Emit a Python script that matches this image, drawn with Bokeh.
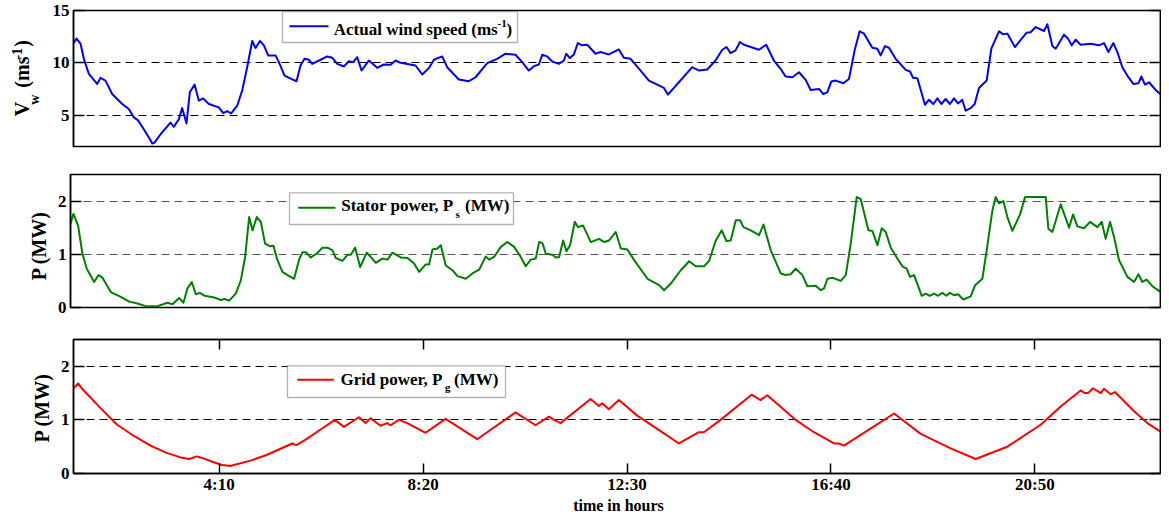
import math
from bokeh.plotting import figure
from bokeh.models import Range1d, FixedTicker, LinearAxis, Label, BoxAnnotation, ColumnDataSource
from bokeh.layouts import column, row
from bokeh.core.properties import value
from bokeh.embed import file_html
from bokeh.resources import INLINE

# ---------------- data (time in minutes from midnight) ----------------
wind_t = [71, 75.1, 80.0, 84.1, 90.2, 100.4, 104.5, 110.6, 118.8, 131.1, 139.2, 145.4, 150.3, 157.6, 163.8,
          167.9, 170.7, 178.1, 190.3, 194.4, 200.6, 204.6, 206.7, 209.9, 214.0, 219.8, 225.1, 230.4, 237.3, 249.6,
          254.9, 259.8, 264.7, 272.1, 278.2, 284.3, 290.5, 294.6, 299.9, 304.8, 310.1, 319.1, 323.2, 330.1, 338.3,
          344.8, 349.7, 354.6, 360.0, 364.0, 374.3, 382.4, 388.6, 394.7, 402.9, 409.0, 414.3, 419.2, 424.5, 433.5,
          443.7, 451.9, 460.1, 466.2, 472.3,
          490.7, 498.9, 507.0, 513.2, 523.4, 529.5, 543.8, 556.1, 564.3, 578.6, 590.8, 601.0, 613.3, 621.5, 629.6,
          635.8, 641.9, 646.0, 652.1, 658.3, 666.4, 672.6, 675.4, 679.9, 684.8, 689.7, 695.0, 701.2, 711.4, 717.5,
          727.7, 740.0, 746.1, 754.3, 766.6, 776.8, 795.2, 800.1, 813.6, 829.9, 838.1, 848.3, 858.5, 866.7, 872.0,
          876.9, 883.0, 888.4, 893.3, 911.7, 920.6, 930.0,
          938.3, 944.4, 952.6, 960.8, 969.0, 975.1, 985.3, 990.6, 995.5, 1000.4, 1005.7, 1015.1, 1022.1, 1029.0, 1035.2,
          1040.5, 1050.7, 1056.8, 1060.9, 1066.2, 1071.1, 1079.3, 1091.6, 1096.9, 1100.6, 1105.9, 1115.3, 1120.2, 1125.5, 1130.4,
          1135.3, 1140.6, 1145.9, 1150.8, 1155.7, 1161.0, 1165.1, 1171.3, 1176.2, 1181.5, 1190.9, 1196.6, 1206.0, 1211.3, 1216.2,
          1225.6, 1239.9, 1244.8, 1251.0, 1261.2, 1265.3, 1271.4, 1275.5, 1285.7, 1290.6, 1295.1, 1300.0, 1306.1, 1318.4, 1328.6,
          1334.7, 1340.1, 1346.2, 1351.1, 1357.2, 1363.3, 1370.7, 1376.8, 1380.5, 1385.0, 1389.9, 1398.1, 1407.5, 1413]
wind_v = [11.83, 12.31, 11.83, 10.38, 8.94, 7.98, 8.56, 8.30, 7.02, 6.06, 5.58, 4.78, 4.52, 3.65, 2.85,
          2.28, 2.37, 3.17, 4.29, 3.88, 4.62, 5.67, 5.10, 4.20, 7.18, 7.92, 6.38, 6.60, 6.06, 5.74,
          5.19, 5.38, 5.16, 5.90, 7.34, 9.58, 12.08, 11.41, 12.08, 11.67, 10.71, 10.71, 10.06, 8.78, 8.46,
          8.24, 9.74, 10.38, 10.29, 9.90, 10.29, 10.61, 10.48, 9.90, 9.65, 10.16, 10.06, 10.54, 9.26, 10.22,
          9.52, 9.84, 9.81, 10.22, 10.0,
          9.74, 8.88, 9.49, 10.29, 10.61, 9.58, 8.40, 8.24, 8.62, 9.97, 10.38, 10.87, 10.77, 10.06, 9.26,
          9.68, 9.84, 10.77, 10.61, 10.13, 9.90, 10.22, 10.87, 10.45, 10.80, 11.89, 11.67, 11.73, 10.87, 11.03,
          10.80, 11.28, 10.48, 10.38, 9.26, 8.30, 7.60, 6.96, 8.14, 9.58, 9.26, 9.36, 10.22, 11.25, 11.51,
          10.93, 11.19, 11.99, 11.73, 11.25, 11.73, 10.22,
          9.42, 8.69, 8.62, 9.10, 8.37, 7.40, 7.50, 7.02, 7.18, 8.21, 8.30, 8.04, 8.46, 11.19, 13.01,
          12.79, 11.44, 11.35, 10.71, 11.60, 11.44, 10.38, 9.33, 9.17, 8.56, 8.53, 5.99, 6.47, 6.06, 6.60,
          6.06, 6.54, 6.06, 6.60, 6.12, 6.47, 5.42, 5.67, 6.06, 7.60, 8.30, 11.35, 13.01, 12.72, 12.79,
          11.51, 12.88, 12.92, 13.42, 13.04, 13.69, 11.60, 11.35, 12.69, 12.31, 11.67, 12.21, 11.73, 11.83, 11.67,
          11.89, 11.03, 11.89, 11.03, 9.58, 8.78, 7.98, 8.04, 8.69, 7.92, 8.14, 7.40, 6.76, 6.70]

stator_t = [71.4, 75.0, 80.7, 86.0, 91.3, 100.3, 105.6, 110.5, 120.7, 132.9, 143.1, 153.3, 163.5, 177.7, 190.0,
            196.1, 204.2, 209.5, 214.4, 219.7, 224.6, 229.5, 235.6, 247.0, 255.2, 260.0, 265.3, 273.5, 279.6, 284.9,
            289.8, 293.9, 299.2, 304.1, 309.3, 315.5, 319.5, 324.4, 330.5, 336.7, 344.8, 350.9, 355.0, 359.1, 365.2,
            373.3, 379.4, 385.6, 391.7, 395.7, 403.9, 410.0, 414.1, 419.4, 425.5, 433.6, 438.5, 444.6, 452.8, 458.9,
            465.0, 475.2,
            483.4, 491.5, 497.6, 505.8, 509.8, 513.9, 520.0, 524.1, 530.2, 538.4, 544.5, 554.7, 562.8, 571.0, 579.1,
            583.2, 589.3, 597.5, 605.6, 613.8, 621.9, 628.0, 634.1, 640.2, 644.3, 648.4, 652.5, 660.6, 664.7, 668.8,
            673.7, 677.7, 682.2, 687.9, 692.0, 698.1, 707.5, 717.7, 723.8, 729.9, 738.0, 744.2, 752.3, 760.5, 776.8,
            791.0, 797.1, 805.3, 817.5, 827.7, 835.8, 846.0, 852.1, 860.3, 867.6, 873.3, 878.6, 884.7, 890.0, 894.1,
            903.1, 913.3, 918.6, 927.5,
            939.7, 945.8, 951.9, 958.0, 966.2, 972.3, 982.5, 988.6, 992.7, 996.8, 1002.9, 1013.1, 1019.2, 1025.3, 1032.6,
            1037.5, 1046.9, 1051.8, 1057.9, 1063.2, 1068.1, 1074.2, 1082.3, 1088.4, 1093.7, 1097.8, 1102.7, 1112.1, 1117.0, 1121.9,
            1127.2, 1132.0, 1137.3, 1142.2, 1146.7, 1151.6, 1156.5, 1163.0, 1172.0, 1177.3, 1186.2, 1191.5, 1198.5, 1202.5, 1206.6,
            1211.9, 1216.8, 1222.9, 1232.3, 1238.4, 1263.7, 1266.9, 1271.8, 1282.0, 1286.9, 1292.2, 1297.1, 1302.4, 1310.5, 1317.9,
            1326.8, 1332.1, 1337.0, 1342.3, 1347.2, 1353.3, 1363.5, 1371.7, 1377.0, 1381.8, 1387.1, 1394.1, 1404.2, 1412.4]
stator_p = [1.575, 1.76, 1.54, 1.01, 0.73, 0.48, 0.61, 0.56, 0.29, 0.20, 0.11, 0.075, 0.025, 0.025, 0.09,
            0.06, 0.18, 0.09, 0.36, 0.48, 0.25, 0.275, 0.22, 0.19, 0.14, 0.16, 0.13, 0.26, 0.51, 0.95,
            1.70, 1.45, 1.70, 1.61, 1.20, 1.15, 1.16, 0.89, 0.67, 0.61, 0.54, 0.90, 1.04, 1.04, 0.94,
            1.025, 1.125, 1.125, 1.075, 0.93, 0.875, 0.99, 0.99, 1.125, 0.76, 1.03, 0.95, 0.84, 0.92, 0.90,
            1.03, 0.94,
            0.93, 0.825, 0.67, 0.81, 0.81, 1.09, 1.11, 1.17, 0.79, 0.70, 0.59, 0.54, 0.64, 0.71, 0.96,
            0.90, 0.95, 1.14, 1.23, 1.14, 0.95, 0.775, 0.90, 0.92, 1.23, 1.21, 1.01, 0.99, 0.94, 0.95,
            1.26, 1.06, 1.17, 1.61, 1.51, 1.54, 1.23, 1.29, 1.23, 1.26, 1.42, 1.11, 1.09, 0.89, 0.54,
            0.42, 0.325, 0.45, 0.70, 0.87, 0.775, 0.775, 0.875, 1.26, 1.45, 1.25, 1.26, 1.64, 1.64, 1.51,
            1.45, 1.36, 1.56, 1.075,
            0.64, 0.61, 0.625, 0.73, 0.61, 0.40, 0.41, 0.325, 0.36, 0.54, 0.56, 0.50, 0.61, 1.20, 2.075,
            2.04, 1.45, 1.44, 1.17, 1.49, 1.42, 1.125, 0.92, 0.775, 0.73, 0.575, 0.61, 0.22, 0.26, 0.22,
            0.26, 0.22, 0.275, 0.22, 0.275, 0.23, 0.25, 0.15, 0.21, 0.42, 0.54, 1.075, 1.825, 2.075, 1.96,
            2.0, 1.70, 1.44, 1.75, 2.075, 2.075, 1.48, 1.42, 1.94, 1.73, 1.50, 1.75, 1.525, 1.49, 1.61,
            1.51, 1.61, 1.29, 1.61, 1.325, 0.89, 0.575, 0.48, 0.625, 0.48, 0.525, 0.40, 0.29, 0.29]

grid_t = [71.0, 77.1, 82.0, 104.5, 124.9, 145.4, 165.8, 186.3, 202.6, 212.8, 216.9, 222.2, 227.1, 243.5, 253.7,
          263.9, 268.0, 288.4, 308.9, 329.3, 339.5, 344.8, 357.9, 374.3, 391.8, 402.9, 421.3, 429.4, 435.6, 447.8,
          456.0, 460.1, 470.3,
          480.5, 503.0, 527.5, 566.3, 613.3, 637.8, 654.2, 660.3, 668.5, 705.3, 715.5, 719.6, 727.7, 740.0, 762.5,
          791.1, 813.6, 838.1, 844.2, 864.7, 902.7, 913.7, 921.9, 950.5,
          956.7, 979.2, 1003.7, 1009.8, 1016.0, 1044.6, 1077.3, 1110.0, 1146.7, 1177.4, 1216.2, 1257.1, 1281.6, 1306.1, 1311.0,
          1315.1, 1321.3, 1330.7, 1334.7, 1342.9, 1348.2, 1371.5, 1387.9, 1413]
grid_p = [1.58, 1.68, 1.58, 1.22, 0.91, 0.70, 0.52, 0.38, 0.30, 0.27, 0.29, 0.32, 0.30, 0.21, 0.16,
          0.14, 0.16, 0.24, 0.35, 0.49, 0.56, 0.53, 0.65, 0.82, 1.00, 0.87, 1.05, 0.94, 1.03, 0.89,
          0.94, 0.90, 1.00,
          0.94, 0.76, 1.02, 0.64, 1.14, 0.90, 1.06, 1.00, 0.94, 1.39, 1.26, 1.31, 1.20, 1.37, 1.08,
          0.79, 0.56, 0.77, 0.77, 1.00, 1.47, 1.37, 1.46, 1.08,
          1.00, 0.77, 0.56, 0.56, 0.52, 0.80, 1.12, 0.74, 0.47, 0.27, 0.50, 0.91, 1.25, 1.55, 1.50,
          1.50, 1.59, 1.50, 1.58, 1.48, 1.52, 1.16, 0.94, 0.69]

x_tick_minutes = [250, 500, 750, 1000, 1250]
x_tick_labels = ["4:10", "8:20", "12:30", "16:40", "20:50"]
wind_ticks = [5, 10, 15]
wind_grid = [5, 10]
power_ticks = [0, 1, 2]
power_grid = [1, 2]
X_START, X_END = 71.4, 1404.0

FONT = "Liberation Serif"
UP = math.pi / 2
TOTAL_W = 1161


def hidden_axis(ticks, tick_len):
    return LinearAxis(ticker=FixedTicker(ticks=ticks), major_tick_in=tick_len, major_tick_out=0,
                      minor_tick_line_color=None, major_label_text_color=None,
                      major_label_text_font_size="1px", major_label_standoff=0,
                      axis_line_width=1.5, major_tick_line_width=1.5)


def make_fig(w, h, left, top, bottom, yr, yticks, ygrid, grid_color, show_x):
    p = figure(width=w, height=h,
               min_border_left=left, min_border_right=1, min_border_top=top, min_border_bottom=bottom,
               x_range=Range1d(X_START, X_END), y_range=Range1d(*yr),
               output_backend="svg", toolbar_location=None,
               x_axis_location="below" if show_x else None)
    p.outline_line_color = "black"
    p.outline_line_width = 1.5
    p.xgrid.visible = False
    p.ygrid.ticker = FixedTicker(ticks=ygrid)
    p.ygrid.grid_line_color = grid_color
    p.ygrid.grid_line_dash = "8 5"
    p.ygrid.grid_line_width = 1
    ya = p.yaxis[0]
    ya.ticker = FixedTicker(ticks=yticks)
    ya.major_tick_in = 11
    ya.major_tick_out = 0
    ya.minor_tick_line_color = None
    ya.axis_line_width = 1.5
    ya.major_tick_line_width = 1.5
    ya.major_label_text_font = FONT
    ya.major_label_text_font_style = "bold"
    ya.major_label_text_font_size = "17px"
    ya.major_label_text_color = "black"
    ya.major_label_standoff = 4
    p.add_layout(hidden_axis(yticks, 11), "right")
    return p


def text_fig(w, h):
    q = figure(width=w, height=h, x_range=Range1d(0, w), y_range=Range1d(0, h),
               min_border=0, x_axis_location=None, y_axis_location=None,
               output_backend="svg", toolbar_location=None)
    q.outline_line_color = None
    q.xgrid.visible = False
    q.ygrid.visible = False
    return q


def vtext(q, xs, ys, texts, size):
    q.text(x=xs, y=ys, text=texts, angle=UP, text_font=value(FONT), text_font_style="bold",
           text_font_size=f"{size}px", text_color="black", text_baseline="middle", text_align="center")


def txt(p, s, x, y, size):
    p.add_layout(Label(x=x, y=y, x_units="screen", y_units="screen", text=s,
                       text_font=FONT, text_font_style="bold", text_font_size=f"{size}px",
                       text_color="black", text_baseline="middle", text_align="left"))


def legend_box(p, l, r, b, t, color, sl, sr, sy):
    p.add_layout(BoxAnnotation(left=l, right=r, bottom=b, top=t,
                               left_units="screen", right_units="screen",
                               bottom_units="screen", top_units="screen",
                               fill_color="white", fill_alpha=1.0,
                               line_color="black", line_width=1.3))
    p.add_layout(BoxAnnotation(left=sl, right=sr, bottom=sy - 1, top=sy + 1,
                               left_units="screen", right_units="screen",
                               bottom_units="screen", top_units="screen",
                               fill_color=color, fill_alpha=1.0, line_color=None))


# ---------------- panel 1: wind speed ----------------
q1 = text_fig(48, 160)
vtext(q1, [21.5, 21.5, 21.5], [44.2, 87.5, 121.3], ["V", "(ms", ")"], 20)
vtext(q1, [33.8, 16.0], [55, 109.1], ["w", "-1"], 14)
p1 = make_fig(1113, 160, 25, 10, 14, (2, 15), wind_ticks, wind_grid, "black", False)
p1.line(x="t", y="v", source=ColumnDataSource(dict(t=wind_t, v=wind_v)),
        line_color="#0000ff", line_width=2, line_join="round")
legend_box(p1, 209, 444, 104, 135, "#0000ff", 216, 255, 120.3)
txt(p1, "Actual wind speed (ms", 260.3, 116.7, 17)
txt(p1, "-1", 424, 122.7, 11)
txt(p1, ")", 433, 116.7, 17)

# ---------------- panel 2: stator power ----------------
q2 = text_fig(52, 160)
vtext(q2, [38.8], [74.5], ["P (MW)"], 20)
p2 = make_fig(1109, 160, 18, 14, 13, (0, 2.5), power_ticks, power_grid, "#555555", False)
p2.line(x="t", y="v", source=ColumnDataSource(dict(t=stator_t, v=stator_p)),
        line_color="#008000", line_width=2, line_join="round")
legend_box(p2, 219, 443, 83, 114.7, "#008000", 227.7, 265, 99.7)
txt(p2, "Stator power, P", 270.7, 102.0, 17)
txt(p2, "s", 385, 94.0, 11)
txt(p2, "(MW)", 394.5, 102.0, 17)

# ---------------- panel 3: grid power ----------------
q3 = text_fig(54, 176)
vtext(q3, [41.8], [86.3], ["P (MW)"], 20)
p3 = make_fig(1107, 176, 19, 19, 20, (0, 2.5), power_ticks, power_grid, "black", True)
p3.line(x="t", y="v", source=ColumnDataSource(dict(t=grid_t, v=grid_p)),
        line_color="#ff0000", line_width=2, line_join="round")
xa = p3.xaxis[0]
xa.ticker = FixedTicker(ticks=x_tick_minutes)
xa.major_label_overrides = {m: s for m, s in zip(x_tick_minutes, x_tick_labels)}
xa.major_tick_in = 10
xa.major_tick_out = 0
xa.minor_tick_line_color = None
xa.axis_line_width = 1.5
xa.major_tick_line_width = 1.5
xa.major_label_text_font = FONT
xa.major_label_text_font_style = "bold"
xa.major_label_text_font_size = "17px"
xa.major_label_text_color = "black"
xa.major_label_standoff = 1
p3.add_layout(hidden_axis(x_tick_minutes, 10), "above")
legend_box(p3, 214, 432, 76, 107.7, "#ff0000", 223.7, 260.3, 93.7)
txt(p3, "Grid power, P", 267, 94.4, 17)
txt(p3, "g", 371.5, 86.4, 11)
txt(p3, "(MW)", 380.5, 94.4, 17)

# ---------------- x-axis title ----------------
q4 = text_fig(TOTAL_W, 18)
q4.text(x=[618], y=[9.2], text=["time in hours"], text_font=value(FONT), text_font_style="bold",
        text_font_size="16px", text_color="black", text_baseline="middle", text_align="center")

layout = column(row(q1, p1, spacing=0), row(q2, p2, spacing=0), row(q3, p3, spacing=0), q4, spacing=0)
open("out.html", "w").write(file_html(layout, INLINE))
